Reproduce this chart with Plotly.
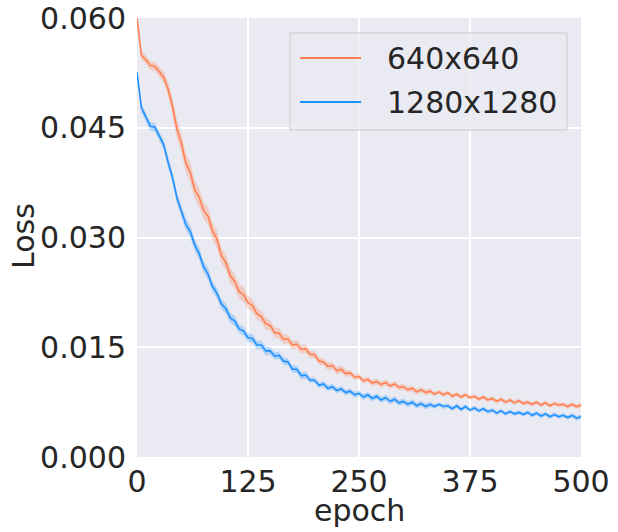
import plotly.graph_objects as go

epochs = list(range(0, 501, 5))

loss_640 = [
    0.0600, 0.0549, 0.0543, 0.0535, 0.0534, 0.0526, 0.0519, 0.0503, 0.0479, 0.0448,
    0.0429, 0.0402, 0.0389, 0.0365, 0.0355, 0.0337, 0.0329, 0.0309, 0.0298, 0.0275,
    0.0266, 0.0248, 0.0240, 0.0226, 0.0222, 0.0211, 0.0207, 0.0196, 0.0192, 0.0182,
    0.0180, 0.0170, 0.0169, 0.0161, 0.0161, 0.0153, 0.0154, 0.0147, 0.0148, 0.0140,
    0.0140, 0.0131, 0.0130, 0.0124, 0.0125, 0.0118, 0.0120, 0.0114, 0.0115, 0.0109,
    0.0110, 0.0104, 0.0106, 0.0101, 0.0103, 0.0099, 0.0102, 0.0097, 0.0100, 0.0095,
    0.0096, 0.0092, 0.0094, 0.0089, 0.0092, 0.0088, 0.0090, 0.0086, 0.0089, 0.0085,
    0.0088, 0.0083, 0.0086, 0.0082, 0.0085, 0.0081, 0.0083, 0.0079, 0.0082, 0.0078,
    0.0080, 0.0076, 0.0079, 0.0075, 0.0078, 0.0074, 0.0077, 0.0073, 0.0075, 0.0072,
    0.0075, 0.0071, 0.0074, 0.0070, 0.0073, 0.0071, 0.0072, 0.0069, 0.0072, 0.0069,
    0.0071,
]

loss_1280 = [
    0.0526, 0.0477, 0.0465, 0.0452, 0.0451, 0.0438, 0.0427, 0.0403, 0.0382, 0.0354,
    0.0337, 0.0318, 0.0308, 0.0290, 0.0278, 0.0260, 0.0250, 0.0233, 0.0224, 0.0209,
    0.0203, 0.0190, 0.0186, 0.0175, 0.0172, 0.0163, 0.0162, 0.0153, 0.0153, 0.0145,
    0.0145, 0.0138, 0.0139, 0.0131, 0.0130, 0.0120, 0.0120, 0.0111, 0.0112, 0.0105,
    0.0105, 0.0098, 0.0100, 0.0094, 0.0096, 0.0091, 0.0093, 0.0088, 0.0090, 0.0085,
    0.0087, 0.0082, 0.0085, 0.0080, 0.0083, 0.0078, 0.0081, 0.0076, 0.0079, 0.0074,
    0.0076, 0.0072, 0.0075, 0.0070, 0.0073, 0.0069, 0.0072, 0.0069, 0.0072, 0.0069,
    0.0070, 0.0066, 0.0070, 0.0065, 0.0069, 0.0064, 0.0067, 0.0063, 0.0066, 0.0062,
    0.0064, 0.0060, 0.0063, 0.0059, 0.0062, 0.0059, 0.0061, 0.0058, 0.0061, 0.0057,
    0.0060, 0.0056, 0.0059, 0.0055, 0.0058, 0.0055, 0.0057, 0.0054, 0.0057, 0.0053,
    0.0055,
]

ci_640 = [
    0.0004, 0.0006, 0.0006, 0.0006, 0.0006, 0.0007, 0.0008, 0.0010, 0.0012, 0.0013,
    0.0013, 0.0013, 0.0013, 0.0013, 0.0013, 0.0012, 0.0012, 0.0012, 0.0012, 0.0011,
    0.0011, 0.0011, 0.0010, 0.0010, 0.0010, 0.0009, 0.0009, 0.0008, 0.0008, 0.0008,
    0.0007, 0.0007, 0.0007, 0.0007, 0.0006, 0.0006, 0.0006, 0.0006, 0.0006, 0.0005,
    0.0005, 0.0005, 0.0005, 0.0005, 0.0005, 0.0005, 0.0005, 0.0005, 0.0004, 0.0004,
    0.0004, 0.0004, 0.0004, 0.0004, 0.0004, 0.0004, 0.0004, 0.0004, 0.0004, 0.0004,
    0.0004, 0.0004, 0.0004, 0.0004, 0.0004, 0.0004, 0.0004, 0.0003, 0.0003, 0.0003,
    0.0003, 0.0003, 0.0003, 0.0003, 0.0003, 0.0003, 0.0003, 0.0003, 0.0003, 0.0003,
    0.0003, 0.0003, 0.0003, 0.0003, 0.0003, 0.0003, 0.0003, 0.0003, 0.0003, 0.0003,
    0.0003, 0.0003, 0.0003, 0.0003, 0.0003, 0.0003, 0.0003, 0.0003, 0.0003, 0.0003,
    0.0003,
]

ci_1280 = [
    0.0004, 0.0006, 0.0006, 0.0006, 0.0006, 0.0006, 0.0007, 0.0008, 0.0008, 0.0008,
    0.0008, 0.0008, 0.0008, 0.0008, 0.0008, 0.0008, 0.0008, 0.0007, 0.0007, 0.0007,
    0.0007, 0.0007, 0.0007, 0.0006, 0.0006, 0.0006, 0.0006, 0.0006, 0.0006, 0.0006,
    0.0005, 0.0005, 0.0005, 0.0005, 0.0005, 0.0005, 0.0005, 0.0005, 0.0005, 0.0004,
    0.0004, 0.0004, 0.0004, 0.0004, 0.0004, 0.0004, 0.0004, 0.0004, 0.0004, 0.0004,
    0.0004, 0.0004, 0.0004, 0.0004, 0.0004, 0.0004, 0.0004, 0.0004, 0.0004, 0.0004,
    0.0004, 0.0004, 0.0004, 0.0004, 0.0004, 0.0004, 0.0004, 0.0003, 0.0003, 0.0003,
    0.0003, 0.0003, 0.0003, 0.0003, 0.0003, 0.0003, 0.0003, 0.0003, 0.0003, 0.0003,
    0.0003, 0.0003, 0.0003, 0.0003, 0.0003, 0.0003, 0.0003, 0.0003, 0.0003, 0.0003,
    0.0003, 0.0003, 0.0003, 0.0003, 0.0003, 0.0003, 0.0003, 0.0003, 0.0003, 0.0003,
    0.0003,
]

series_names = ["640x640", "1280x1280"]
x_ticks = [0, 125, 250, 375, 500]
y_ticks = [0.000, 0.015, 0.030, 0.045, 0.060]

line_colors = ["rgb(255,127,80)", "rgb(30,144,255)"]
band_colors = ["rgba(255,127,80,0.28)", "rgba(30,144,255,0.28)"]

W, H = 618, 532
PL, PT, PW, PH = 137, 18, 444, 439  # plot area in window pixels
L, T = PL, PT
R, B = W - L - PW, H - T - PH


def px(xp):
    return (xp - PL) / PW


def py(yp):
    return (PT + PH - yp) / PH


fig = go.Figure()
for name, mean, ci, lc, bc in zip(series_names, [loss_640, loss_1280], [ci_640, ci_1280],
                                   line_colors, band_colors):
    upper = [m + c for m, c in zip(mean, ci)]
    lower = [m - c for m, c in zip(mean, ci)]
    fig.add_trace(go.Scatter(x=epochs + epochs[::-1], y=upper + lower[::-1], fill="toself",
                             fillcolor=bc, line=dict(width=0), hoverinfo="skip",
                             showlegend=False))
    fig.add_trace(go.Scatter(x=epochs, y=mean, mode="lines", name=name,
                             line=dict(color=lc, width=1.6), showlegend=False))

font_color = "#262626"
fam = "DejaVu Sans"
fs = 30

shapes = [
    dict(type="rect", xref="paper", yref="paper", x0=px(290), x1=px(567), y0=py(130), y1=py(33),
         fillcolor="rgba(234,234,242,0.8)", line=dict(color="#cccccc", width=1), layer="above"),
    dict(type="line", xref="paper", yref="paper", x0=px(300), x1=px(361), y0=py(58), y1=py(58),
         line=dict(color=line_colors[0], width=1.8), layer="above"),
    dict(type="line", xref="paper", yref="paper", x0=px(300), x1=px(361), y0=py(102), y1=py(102),
         line=dict(color=line_colors[1], width=1.8), layer="above"),
]
annotations = [
    dict(text=series_names[0], xref="paper", yref="paper", x=px(385), y=py(58), xanchor="left",
         yanchor="middle", showarrow=False, font=dict(size=fs, color=font_color, family=fam)),
    dict(text=series_names[1], xref="paper", yref="paper", x=px(385), y=py(102), xanchor="left",
         yanchor="middle", showarrow=False, font=dict(size=fs, color=font_color, family=fam)),
    dict(text="Loss", xref="paper", yref="paper", x=px(24), y=py(236), textangle=-90,
         xanchor="center", yanchor="middle", showarrow=False,
         font=dict(size=fs, color=font_color, family=fam)),
    dict(text="epoch", xref="paper", yref="paper", x=px(359), y=py(510), xanchor="center",
         yanchor="middle", showarrow=False, font=dict(size=fs, color=font_color, family=fam)),
]

fig.update_layout(
    width=W, height=H,
    margin=dict(l=L, r=R, t=T, b=B, autoexpand=False),
    paper_bgcolor="white",
    plot_bgcolor="#EAEAF2",
    font=dict(family=fam, size=fs, color=font_color),
    shapes=shapes,
    annotations=annotations,
    xaxis=dict(range=[0, 500], tickvals=x_ticks, ticktext=[str(v) for v in x_ticks],
               showgrid=True, gridcolor="white", gridwidth=1.5, zeroline=False,
               showline=False, ticks="", ticklabelstandoff=4, automargin=False,
               ticklabeloverflow="allow"),
    yaxis=dict(range=[0, 0.06], tickvals=y_ticks, ticktext=[f"{v:.3f}" for v in y_ticks],
               showgrid=True, gridcolor="white", gridwidth=1.5, zeroline=False,
               showline=False, ticks="", ticklabelstandoff=10, automargin=False,
               ticklabeloverflow="allow"),
)

fig.write_html("out.html", config={"displayModeBar": False},
               post_script="document.body.style.margin='0';")
